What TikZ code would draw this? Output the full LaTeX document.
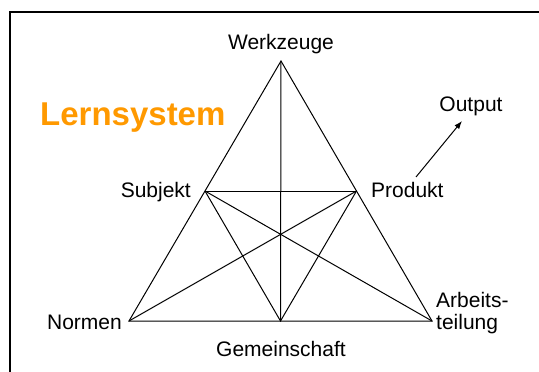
\documentclass[tikz,border=0pt]{standalone}
\usepackage{fontspec}
\setmainfont{Liberation Sans}
\usetikzlibrary{arrows.meta,calc}
\definecolor{lernorange}{HTML}{FF9900}
\begin{document}
\begin{tikzpicture}[x=1pt,y=-1pt,
  lbl/.style={inner sep=0pt,font=\fontsize{21}{25}\selectfont},
  edge/.style={line width=1pt,black},
  frameline/.style={line width=1.3pt,black}]
\useasboundingbox (0,0) rectangle (539,372);
% frame lines (top and left)
\draw[frameline] (10,372) -- (10,12) -- (539,12);
% triangle corners and side midpoints
\coordinate (W) at (281,61);
\coordinate (N) at (129,321);
\coordinate (A) at (432,321);
\coordinate (S) at ($(W)!0.5!(N)$);
\coordinate (P) at ($(W)!0.5!(A)$);
\coordinate (G) at ($(N)!0.5!(A)$);
% triangle and inner connections
\draw[edge,line join=miter] (W) -- (N) -- (A) -- cycle;
\draw[edge] (S) -- (P);
\draw[edge] (W) -- (G);
\draw[edge] (S) -- (A);
\draw[edge] (P) -- (N);
\draw[edge] (S) -- (G) -- (P);
% labels
\node[lbl,anchor=base] (tW) at (281,49) {Werkzeuge};
\node[lbl,anchor=base east] (tS) at (191,197) {Subjekt};
\node[lbl,anchor=base west] (tP) at (371,197) {Produkt};
\node[lbl,anchor=base east] (tN) at (122,329) {Normen};
\node[lbl,anchor=base] (tG) at (281,356) {Gemeinschaft};
\node[lbl,anchor=base west,align=left] (tA) at (436,329) {Arbeits-\\[-3pt]teilung};
\node[lbl,anchor=base] (tO) at (471,111) {Output};
\node[inner sep=0pt,anchor=base west,text=lernorange,font=\fontsize{33}{38}\selectfont\bfseries] (title) at (40,125) {Lernsystem};
% output arrow
\coordinate (oStart) at (416,177);
\coordinate (oEnd) at (462,121);
\draw[edge,-{Latex[length=8pt,width=6pt]}] (oStart) -- (oEnd);
\end{tikzpicture}
\end{document}
